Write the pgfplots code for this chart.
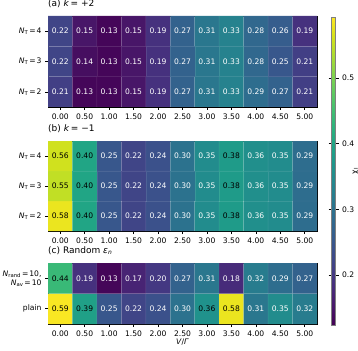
\documentclass[border=0pt]{standalone}
\usepackage{fontspec}
\setmainfont{DejaVu Sans}
\usepackage{pgfplots}
\usepackage{pgfplotstable}
\pgfplotsset{compat=1.18}

% rows bottom to top: y=0 is the lowest row
\pgfplotstableread{
x y v
0 0 0.21
1 0 0.13
2 0 0.13
3 0 0.15
4 0 0.19
5 0 0.27
6 0 0.31
7 0 0.33
8 0 0.29
9 0 0.27
10 0 0.21
0 1 0.22
1 1 0.14
2 1 0.13
3 1 0.15
4 1 0.19
5 1 0.27
6 1 0.31
7 1 0.33
8 1 0.28
9 1 0.25
10 1 0.21
0 2 0.22
1 2 0.15
2 2 0.13
3 2 0.15
4 2 0.19
5 2 0.27
6 2 0.31
7 2 0.33
8 2 0.28
9 2 0.26
10 2 0.19
}\dataA

\pgfplotstableread{
x y v
0 0 0.58
1 0 0.40
2 0 0.25
3 0 0.22
4 0 0.24
5 0 0.30
6 0 0.35
7 0 0.38
8 0 0.357
9 0 0.35
10 0 0.29
0 1 0.55
1 1 0.40
2 1 0.25
3 1 0.22
4 1 0.24
5 1 0.30
6 1 0.35
7 1 0.38
8 1 0.357
9 1 0.35
10 1 0.29
0 2 0.56
1 2 0.40
2 2 0.25
3 2 0.22
4 2 0.24
5 2 0.30
6 2 0.35
7 2 0.38
8 2 0.357
9 2 0.35
10 2 0.29
}\dataB

\pgfplotstableread{
x y v
0 0 0.59
1 0 0.39
2 0 0.25
3 0 0.22
4 0 0.24
5 0 0.30
6 0 0.362
7 0 0.58
8 0 0.31
9 0 0.35
10 0 0.32
0 1 0.44
1 1 0.19
2 1 0.13
3 1 0.17
4 1 0.20
5 1 0.27
6 1 0.31
7 1 0.18
8 1 0.32
9 1 0.29
10 1 0.27
}\dataC

\newcommand{\fs}{\fontsize{7.6}{9}\selectfont}
\newcommand{\ft}{\fontsize{9}{10}\selectfont}
\newcommand{\NT}[1]{\textit{N}\textsubscript{T}\kern1pt=\kern1pt#1}

\pgfplotsset{
  hm/.style={
    scale only axis, width=269pt,
    xmin=-0.5, xmax=10.5, ymin=-0.5, enlargelimits=false,
    colormap/viridis, point meta min=0.124, point meta max=0.593,
    /pgf/number format/assume math mode=true,
    xtick={0,...,10},
    xticklabels={0.00,0.50,1.00,1.50,2.00,2.50,3.00,3.50,4.00,4.50,5.00},
    tick align=outside, xtick pos=left, ytick pos=left,
    major tick length=3pt, tick style={black, line width=0.6pt},
    axis line style={line width=0.8pt},
    font=\fs, ticklabel style={font=\fs},
    title style={at={(0,1)}, anchor=south west, inner xsep=0pt, inner ysep=2pt, font=\ft},
  },
  heatcells/.style={matrix plot*, mesh/cols=11, point meta=explicit,
    draw=white, draw opacity=0.1},
  % printed values: white on dark cells, black on light ones
  cellvals/.style 2 args={sharp plot, draw=none, mark=none, point meta=explicit,
    unbounded coords=discard,
    x filter/.expression={(\thisrow{v}>=#1 && \thisrow{v}<#2) ? x : nan},
    nodes near coords={\pgfmathprintnumber[fixed,zerofill,precision=2,assume math mode=true]{\pgfplotspointmeta}},
    every node near coord/.append style={font=\fs, inner sep=0pt, anchor=center}},
}

\begin{document}
\begin{tikzpicture}
\path[use as bounding box] (0,0) rectangle (358pt,-350pt);

\begin{axis}[hm, at={(48pt,-16pt)}, anchor=north west, height=91pt,
  ymax=2.5, ytick={0,1,2},
  yticklabels={\NT{2}, \NT{3}, \NT{4}},
  title={(a) \textit{k}\kern1.5pt=\kern3pt+2},
  colorbar,
  colorbar style={at={(parent axis.north east)}, anchor=north west,
    xshift=6pt, yshift=-1pt, scale only axis, width=4pt, height=308pt,
    ytick={0.2,0.3,0.4,0.5}, font=\fs, ticklabel style={font=\fs},
    /pgf/number format/assume math mode=true,
    yticklabel style={/pgf/number format/fixed, /pgf/number format/precision=1},
    axis line style={gray, line width=0.4pt},
    tick align=outside, major tick length=3pt, tick style={black, line width=0.5pt},
    ylabel={χ\textsubscript{I}},
    every axis y label/.style={at={(axis description cs:1,0.5)}, anchor=center,
      xshift=20pt, rotate=90, inner sep=0pt, font=\fs}}]
\addplot[heatcells] table[meta=v]{\dataA};
\addplot[cellvals={0}{0.36}, nodes near coords style={text=white}] table[meta=v]{\dataA};
\end{axis}

\begin{axis}[hm, at={(48pt,-141pt)}, anchor=north west, height=90pt,
  ymax=2.5, ytick={0,1,2},
  yticklabels={\NT{2}, \NT{3}, \NT{4}},
  title={(b) \textit{k}\kern1.5pt=\kern3pt−1}]
\addplot[heatcells] table[meta=v]{\dataB};
\addplot[cellvals={0}{0.36}, nodes near coords style={text=white}] table[meta=v]{\dataB};
\addplot[cellvals={0.36}{1}, nodes near coords style={text=black}] table[meta=v]{\dataB};
\end{axis}

\begin{axis}[hm, at={(48pt,-263pt)}, anchor=north west, height=61pt,
  ymax=1.5, ytick={0,1},
  yticklabels={plain, {\textit{N}\textsubscript{rand}\kern1pt=\kern1pt10,\\\textit{N}\textsubscript{av}\kern1pt=\kern1pt10}},
  yticklabel style={align=right},
  title={(c) Random \textit{ε}\textsubscript{\textit{n}}},
  xlabel={\textit{V}/\textit{Γ}}, xlabel style={font=\fs, yshift=4pt}]
\addplot[heatcells] table[meta=v]{\dataC};
\addplot[cellvals={0}{0.36}, nodes near coords style={text=white}] table[meta=v]{\dataC};
\addplot[cellvals={0.36}{1}, nodes near coords style={text=black}] table[meta=v]{\dataC};
\end{axis}
\end{tikzpicture}
\end{document}
